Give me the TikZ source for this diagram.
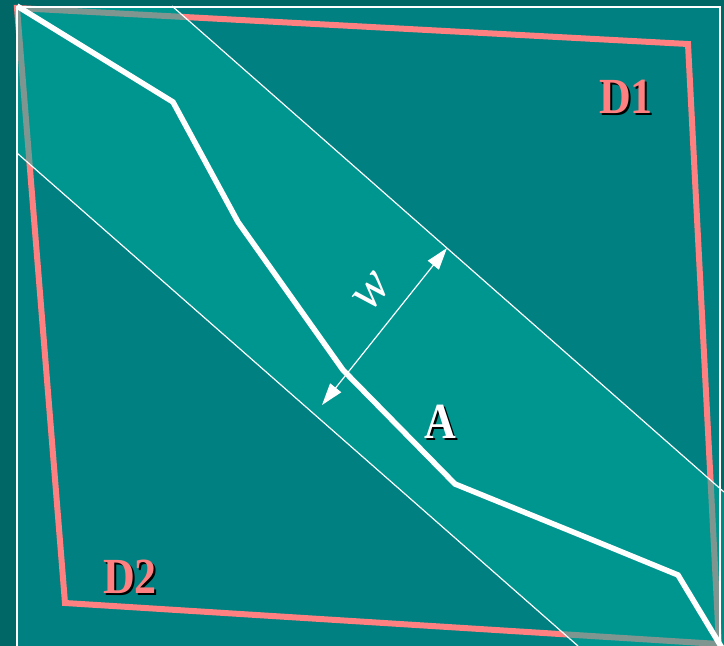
\documentclass[tikz,border=0pt]{standalone}
\usepackage{fontspec}
\setmainfont{Liberation Serif}
\usetikzlibrary{arrows.meta}
\definecolor{outerbg}{RGB}{0,102,102}
\definecolor{innerbg}{RGB}{0,128,128}
\definecolor{bandc}{RGB}{0,172,160}
\definecolor{salmon}{RGB}{255,128,128}
\newcommand{\shadowed}[2]{\makebox[0pt][l]{\hspace{2pt}\raisebox{-2pt}{\color{black}#2}}{\color{#1}#2}}
\tikzset{
  zone/.style={salmon, line width=6pt, line join=miter},
  edgeline/.style={white, line width=1.2pt},
  river/.style={white, line width=5.5pt, line join=miter},
  big/.style={inner sep=0pt, font=\fontsize{44}{44}\selectfont\bfseries},
  tip/.tip={Triangle[length=22pt,width=14pt]}
}
\begin{document}
\begin{tikzpicture}[x=1pt,y=-1pt]
\useasboundingbox (0,0) rectangle (724,646);
\fill[outerbg] (0,0) rectangle (724,646);
\fill[innerbg] (17,7) rectangle (720,660);
% D1/D2 boundary
\draw[zone] (17,8) -- (688,44) -- (719,644) -- (65,603) -- cycle;
% band
\fill[bandc, opacity=0.5] (17,7) -- (172,7) -- (724,492) -- (724,646) -- (578,646) -- (17,153) -- cycle;
% band edges
\coordinate (u1) at (172,6);
\coordinate (u2) at (724,492);
\coordinate (l1) at (17,153);
\coordinate (l2) at (578,646);
\draw[edgeline] (u1) -- (u2);
\draw[edgeline] (l1) -- (l2);
% river
\coordinate (r0) at (17,6);
\coordinate (r1) at (173,102);
\coordinate (r2) at (238,222);
\coordinate (r3) at (343,370);
\coordinate (r4) at (455,484);
\coordinate (r5) at (600,543);
\coordinate (r6) at (678,575);
\coordinate (r7) at (722,648);
\draw[river] (r0) -- (r1) -- (r2) -- (r3) -- (r4) -- (r5) -- (r6) -- (r7);
% frame
\draw[white, line width=2pt] (17,7) rectangle (720,670);
% width arrow
\coordinate (wa) at (322,405);
\coordinate (wb) at (447,248);
\draw[white, line width=1.2pt, {tip}-{tip}] (wa) -- (wb);
\node[inner sep=0pt, rotate=51, text=white, font=\fontsize{54}{54}\selectfont\itshape] (w) at (372,292) {w};
% labels
\node[big] (d1) at (626,98) {\scalebox{1}[1.15]{\shadowed{salmon}{D1}}};
\node[big] (d2) at (130,578) {\scalebox{1}[1.15]{\shadowed{salmon}{D2}}};
\node[big] (a) at (440,423) {\scalebox{1}[1.15]{\shadowed{white}{A}}};
\end{tikzpicture}
\end{document}
